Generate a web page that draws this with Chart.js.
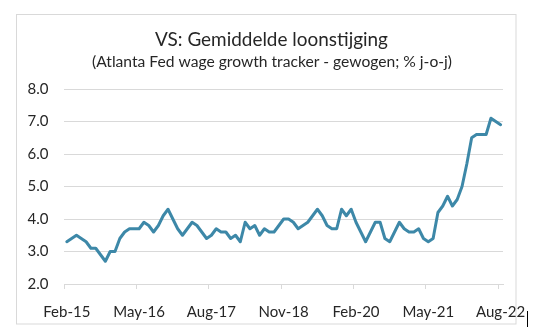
<!DOCTYPE html>
<html>
<head>
<meta charset="utf-8">
<script src="https://cdn.jsdelivr.net/npm/chart.js"></script>
<style>
html,body{margin:0;padding:0;background:#fff;}
#wrap{position:relative;width:553px;height:331px;}
</style>
</head>
<body>
<div id="wrap"><canvas id="c" width="553" height="331"></canvas></div>
<script>
// ---- data ----
const titleText = 'VS: Gemiddelde loonstijging';
const subtitleText = '(Atlanta Fed wage growth tracker - gewogen; % j-o-j)';
const monthNames = ['Jan','Feb','Mar','Apr','May','Jun','Jul','Aug','Sep','Oct','Nov','Dec'];
const startYear = 2015, startMonth = 1, monthCount = 91; // Feb-15 .. Aug-22
const categories = [];
for (let i = 0; i < monthCount; i++) {
  const m = startMonth + i;
  categories.push(monthNames[m % 12] + '-' + String(15 + Math.floor(m / 12)));
}
const tickLabels = ['Feb-15','May-16','Aug-17','Nov-18','Feb-20','May-21','Aug-22'];
const wageGrowth = [
  3.3, 3.4, 3.5, 3.4, 3.3, 3.1, 3.1, 2.9, 2.7, 3.0, 3.0,
  3.4, 3.6, 3.7, 3.7, 3.7, 3.9, 3.8, 3.6, 3.8, 4.1, 4.3, 4.0,
  3.7, 3.5, 3.7, 3.9, 3.8, 3.6, 3.4, 3.5, 3.7, 3.6, 3.6, 3.4,
  3.5, 3.3, 3.9, 3.7, 3.8, 3.5, 3.7, 3.6, 3.6, 3.8, 4.0, 4.0,
  3.9, 3.7, 3.8, 3.9, 4.1, 4.3, 4.1, 3.8, 3.7, 3.7, 4.3, 4.1,
  4.3, 3.9, 3.6, 3.3, 3.6, 3.9, 3.9, 3.4, 3.3, 3.6, 3.9, 3.7,
  3.6, 3.6, 3.7, 3.4, 3.3, 3.4, 4.2, 4.4, 4.7, 4.4, 4.6, 5.0,
  5.7, 6.5, 6.6, 6.6, 6.6, 7.1, 7.0, 6.9
];
const yMin = 2, yMax = 8, yStep = 1;

// ---- styling ----
const FONT = 'Lato, "Open Sans", "Liberation Sans", sans-serif';
const TEXT = '#262626';
const GRID = '#d9d9d9';
const LINE = '#3D88A8';

const decor = {
  id: 'decor',
  beforeDraw(chart) {
    const c = chart.ctx;
    c.save();
    c.fillStyle = '#fff';
    c.fillRect(0, 0, chart.width, chart.height);
    c.strokeStyle = GRID;
    c.lineWidth = 1;
    c.strokeRect(16.5, 14.5, 499.5, 309.5);
    c.restore();
  },
  afterDraw(chart) {
    const c = chart.ctx;
    c.save();
    c.fillStyle = TEXT;
    c.textAlign = 'center';
    c.textBaseline = 'alphabetic';
    function fit(text, targetW, cx, base) {
      c.font = '100px ' + FONT;
      const w = c.measureText(text).width;
      const size = 100 * targetW / w;
      c.font = size.toFixed(2) + 'px ' + FONT;
      c.fillText(text, cx, base);
    }
    fit(titleText, 233, 271.5, 45.7);
    fit(subtitleText, 360, 272, 67.3);
    // small cursor mark at lower right
    c.strokeStyle = '#000';
    c.lineWidth = 1;
    c.beginPath();
    c.moveTo(527.5, 311);
    c.lineTo(527.5, 327);
    c.stroke();
    c.restore();
  }
};

function build() {
  new Chart(document.getElementById('c'), {
    type: 'line',
    data: {
      labels: categories,
      datasets: [{
        data: wageGrowth,
        borderColor: LINE,
        borderWidth: 3,
        pointRadius: 0,
        tension: 0,
        fill: false,
        borderJoinStyle: 'round',
        borderCapStyle: 'round'
      }]
    },
    options: {
      responsive: false,
      animation: false,
      devicePixelRatio: 1,
      layout: { padding: { left: 0, right: 50, top: 89, bottom: 0 } },
      plugins: { legend: { display: false }, title: { display: false }, tooltip: { enabled: false } },
      scales: {
        x: {
          type: 'category',
          offset: true,
          grid: {
            offset: true,
            drawOnChartArea: false,
            drawTicks: true,
            tickLength: 5,
            color: (ctx) => (ctx.index !== undefined && tickLabels.includes(categories[ctx.index])) ? GRID : 'rgba(0,0,0,0)',
            tickColor: (ctx) => (ctx.index !== undefined && tickLabels.includes(categories[ctx.index])) ? GRID : 'rgba(0,0,0,0)'
          },
          border: { display: true, color: GRID, width: 1 },
          ticks: {
            autoSkip: false,
            maxRotation: 0,
            minRotation: 0,
            padding: 14,
            color: TEXT,
            font: { family: FONT, size: 15 },
            callback: function (value) {
              const lbl = this.getLabelForValue(value);
              return tickLabels.includes(lbl) ? lbl : '';
            }
          },
          afterFit: (s) => { s.height = 47; }
        },
        y: {
          min: yMin,
          max: yMax,
          grid: { color: GRID, drawTicks: false, lineWidth: 1 },
          border: { display: false },
          ticks: {
            stepSize: yStep,
            padding: 16,
            color: TEXT,
            font: { family: FONT, size: 15 },
            callback: (v) => Number(v).toFixed(1)
          },
          afterFit: (s) => { s.width = 64.4; }
        }
      }
    },
    plugins: [decor]
  });
}

if (document.fonts && document.fonts.load) {
  Promise.all([document.fonts.load('15px Lato'), document.fonts.load('20px Lato')]).then(build, build);
} else { build(); }
</script>
</body>
</html>
